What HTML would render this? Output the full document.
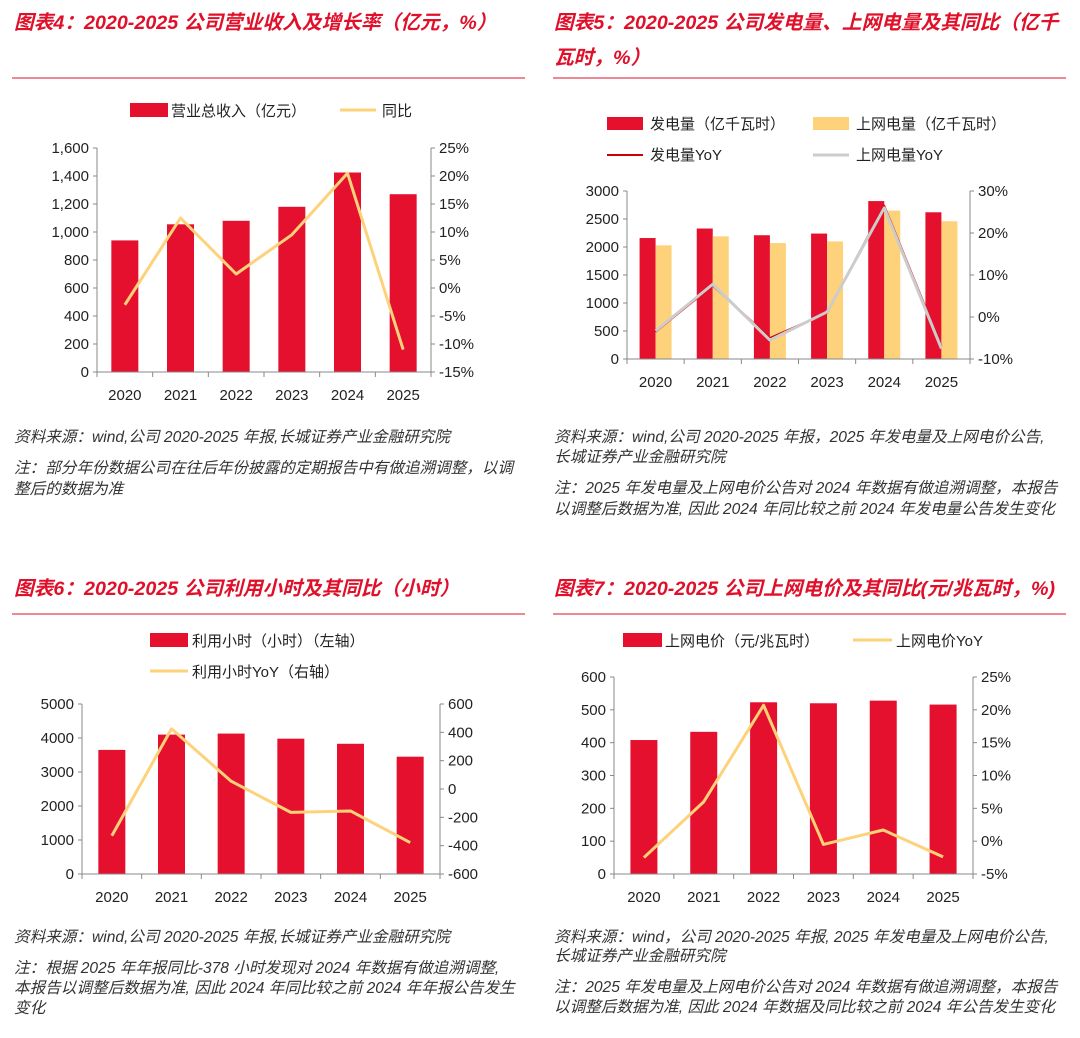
<!DOCTYPE html>
<html><head><meta charset="utf-8"><style>
body{margin:0;background:#fff;width:1080px;height:1033px;overflow:hidden}
svg text{font-family:"Liberation Sans","Noto Sans CJK SC",sans-serif;fill:#222}
.t{fill:#e0102a;font-style:italic;font-weight:bold;font-size:19.7px}
.s{font-style:italic;font-size:15.6px;fill:#333}
.a{font-size:15px}
</style></head><body>
<svg id="svg" width="1080" height="1033">
<g>
<text class="t" x="14" y="29">图表4：2020-2025 公司营业收入及增长率（亿元，%）</text>
<line x1="12" y1="78" x2="525" y2="78" stroke="#e0102a" stroke-width="1"/></g>
<g>
<text class="t" x="554" y="29">图表5：2020-2025 公司发电量、上网电量及其同比（亿千</text>
<text class="t" x="554" y="64">瓦时，%）</text>
<line x1="553" y1="78" x2="1066" y2="78" stroke="#e0102a"/></g>
<g>
<text class="t" x="14" y="595">图表6：2020-2025 公司利用小时及其同比（小时）</text>
<line x1="12" y1="614" x2="525" y2="614" stroke="#e0102a"/></g>
<g>
<text class="t" x="554" y="595">图表7：2020-2025 公司上网电价及其同比(元/兆瓦时，%)</text>
<line x1="553" y1="614" x2="1066" y2="614" stroke="#e0102a"/></g>

<g>
<text class="s" x="14" y="442">资料来源：wind,公司 2020-2025 年报,长城证券产业金融研究院</text>
<text class="s" x="14" y="473">注：部分年份数据公司在往后年份披露的定期报告中有做追溯调整，以调</text>
<text class="s" x="14" y="494">整后的数据为准</text>
<text class="s" x="554" y="442">资料来源：wind,公司 2020-2025 年报，2025 年发电量及上网电价公告,</text>
<text class="s" x="554" y="462">长城证券产业金融研究院</text>
<text class="s" x="554" y="493">注：2025 年发电量及上网电价公告对 2024 年数据有做追溯调整，本报告</text>
<text class="s" x="554" y="514">以调整后数据为准, 因此 2024 年同比较之前 2024 年发电量公告发生变化</text>
<text class="s" x="14" y="942">资料来源：wind,公司 2020-2025 年报,长城证券产业金融研究院</text>
<text class="s" x="14" y="973">注：根据 2025 年年报同比-378 小时发现对 2024 年数据有做追溯调整,</text>
<text class="s" x="14" y="993">本报告以调整后数据为准, 因此 2024 年同比较之前 2024 年年报公告发生</text>
<text class="s" x="14" y="1013">变化</text>
<text class="s" x="554" y="942">资料来源：wind，公司 2020-2025 年报, 2025 年发电量及上网电价公告,</text>
<text class="s" x="554" y="961">长城证券产业金融研究院</text>
<text class="s" x="554" y="992">注：2025 年发电量及上网电价公告对 2024 年数据有做追溯调整，本报告</text>
<text class="s" x="554" y="1012">以调整后数据为准, 因此 2024 年数据及同比较之前 2024 年公告发生变化</text>
</g>

<g>
<rect x="130" y="103" width="38" height="14" fill="#e5102e"/><text class="a" x="171" y="116">营业总收入（亿元）</text>
<line x1="340" y1="110" x2="376" y2="110" stroke="#fdd27a" stroke-width="3"/><text class="a" x="382" y="116">同比</text>
<rect x="607" y="117" width="36" height="13" fill="#e5102e"/><text class="a" x="650" y="129">发电量（亿千瓦时）</text>
<rect x="813" y="117" width="36" height="13" fill="#fdd27a"/><text class="a" x="856" y="129">上网电量（亿千瓦时）</text>
<line x1="607" y1="155" x2="643" y2="155" stroke="#c00" stroke-width="2"/><text class="a" x="650" y="160">发电量YoY</text>
<line x1="813" y1="155" x2="849" y2="155" stroke="#ccc" stroke-width="3"/><text class="a" x="856" y="160">上网电量YoY</text>
<rect x="150" y="633" width="38" height="14" fill="#e5102e"/><text class="a" x="192" y="646">利用小时（小时）（左轴）</text>
<line x1="150" y1="671" x2="188" y2="671" stroke="#fdd27a" stroke-width="3"/><text class="a" x="192" y="677">利用小时YoY（右轴）</text>
<rect x="623" y="633" width="39" height="14" fill="#e5102e"/><text class="a" x="665" y="646">上网电价（元/兆瓦时）</text>
<line x1="853" y1="640" x2="892" y2="640" stroke="#fdd27a" stroke-width="3"/><text class="a" x="896" y="646">上网电价YoY</text>
</g>
</svg>
<script>
const years=['2020','2021','2022','2023','2024','2025'];
const c4Revenue=[940,1055,1080,1180,1425,1270];
const c4Yoy=[-3,12.5,2.5,9.5,20.5,-11];
const c4LeftTicks=['0','200','400','600','800','1,000','1,200','1,400','1,600'];
const c4RightTicks=['-15%','-10%','-5%','0%','5%','10%','15%','20%','25%'];
const c5Gen=[2160,2330,2210,2240,2820,2620];
const c5Grid=[2030,2190,2070,2100,2650,2460];
const c5GenYoy=[-3.5,7.5,-5,1,26.5,-7];
const c5GridYoy=[-3.3,7.8,-5.5,1.2,26,-7.5];
const c5LeftTicks=['0','500','1000','1500','2000','2500','3000'];
const c5RightTicks=['-10%','0%','10%','20%','30%'];
const c6Hours=[3650,4100,4130,3980,3830,3450];
const c6Yoy=[-330,425,55,-165,-155,-378];
const c6LeftTicks=['0','1000','2000','3000','4000','5000'];
const c6RightTicks=['-600','-400','-200','0','200','400','600'];
const c7Price=[408,433,523,520,528,516];
const c7Yoy=[-2.5,6,20.7,-0.5,1.7,-2.4];
const c7LeftTicks=['0','100','200','300','400','500','600'];
const c7RightTicks=['-5%','0%','5%','10%','15%','20%','25%'];

const NS='http://www.w3.org/2000/svg',svg=document.getElementById('svg');
function mk(t,a,p){const e=document.createElementNS(NS,t);for(const k in a)e.setAttribute(k,a[k]);(p||svg).appendChild(e);return e;}
function chart(cfg){
 const g=mk('g',{});
 
 
 const {x0,x1,yT,yB,lmin,lmax,rmin,rmax}=cfg;
 const n=years.length,step=(x1-x0)/n;
 const ly=v=>yB-(v-lmin)/(lmax-lmin)*(yB-yT);
 const ry=v=>yB-(v-rmin)/(rmax-rmin)*(yB-yT);
 const cx=i=>x0+step*(i+0.5);
 cfg.bars.forEach((b,bi)=>{
  b.data.forEach((v,i)=>{
   const bx=cx(i)+b.off-b.w/2;
   const r=mk('rect',{x:bx,y:ly(v),width:b.w,height:yB-ly(v),fill:b.color},g);
   
   
  });
 });
 cfg.lines.forEach(l=>{
  const p=mk('polyline',{points:l.data.map((v,i)=>cx(i)+','+ry(v)).join(' '),fill:'none',stroke:l.color,'stroke-width':l.w,'stroke-linejoin':'round'},g);
  
  
 });
 mk('line',{x1:x0,y1:yT,x2:x0,y2:yB,stroke:'#888'},g);
 mk('line',{x1:x1,y1:yT,x2:x1,y2:yB,stroke:'#888'},g);
 mk('line',{x1:x0,y1:yB,x2:x1,y2:yB,stroke:'#888'},g);
 cfg.lt.forEach((t,i)=>{const y=yB-i*(yB-yT)/(cfg.lt.length-1);
  mk('line',{x1:x0-4,y1:y,x2:x0,y2:y,stroke:'#888'},g);
  const e=mk('text',{x:x0-8,y:y+5,'text-anchor':'end','class':'a'},g);e.textContent=t;});
 cfg.rt.forEach((t,i)=>{const y=yB-i*(yB-yT)/(cfg.rt.length-1);
  mk('line',{x1:x1,y1:y,x2:x1+4,y2:y,stroke:'#888'},g);
  const e=mk('text',{x:x1+8,y:y+5,'class':'a'},g);e.textContent=t;});
 for(let i=0;i<=n;i++)mk('line',{x1:x0+step*i,y1:yB,x2:x0+step*i,y2:yB+5,stroke:'#888'},g);
 years.forEach((y,i)=>{const e=mk('text',{x:cx(i),y:yB+28,'text-anchor':'middle','class':'a'},g);e.textContent=y;});
}
const RED='#e5102e',YEL='#fdd27a';
chart({name:'revenue-chart',x0:97,x1:431,yT:148,yB:372,lmin:0,lmax:1600,rmin:-15,rmax:25,lt:c4LeftTicks,rt:c4RightTicks,
 bars:[{key:'revenue',data:c4Revenue,w:27,off:0,color:RED}],lines:[{key:'revenue-yoy',data:c4Yoy,color:YEL,w:3}]});
chart({name:'generation-chart',x0:627,x1:970,yT:191,yB:359,lmin:0,lmax:3000,rmin:-10,rmax:30,lt:c5LeftTicks,rt:c5RightTicks,
 bars:[{key:'generation',data:c5Gen,w:16,off:-8,color:RED},{key:'grid',data:c5Grid,w:16,off:8,color:YEL}],
 lines:[{key:'generation-yoy',data:c5GenYoy,color:'#c00',w:2},{key:'grid-yoy',data:c5GridYoy,color:'#ccc',w:3}]});
chart({name:'hours-chart',x0:82,x1:440,yT:704,yB:874,lmin:0,lmax:5000,rmin:-600,rmax:600,lt:c6LeftTicks,rt:c6RightTicks,
 bars:[{key:'hours',data:c6Hours,w:27,off:0,color:RED}],lines:[{key:'hours-yoy',data:c6Yoy,color:YEL,w:3}]});
chart({name:'price-chart',x0:614,x1:973,yT:677,yB:874,lmin:0,lmax:600,rmin:-5,rmax:25,lt:c7LeftTicks,rt:c7RightTicks,
 bars:[{key:'price',data:c7Price,w:27,off:0,color:RED}],lines:[{key:'price-yoy',data:c7Yoy,color:YEL,w:3}]});
</script>
</body></html>
